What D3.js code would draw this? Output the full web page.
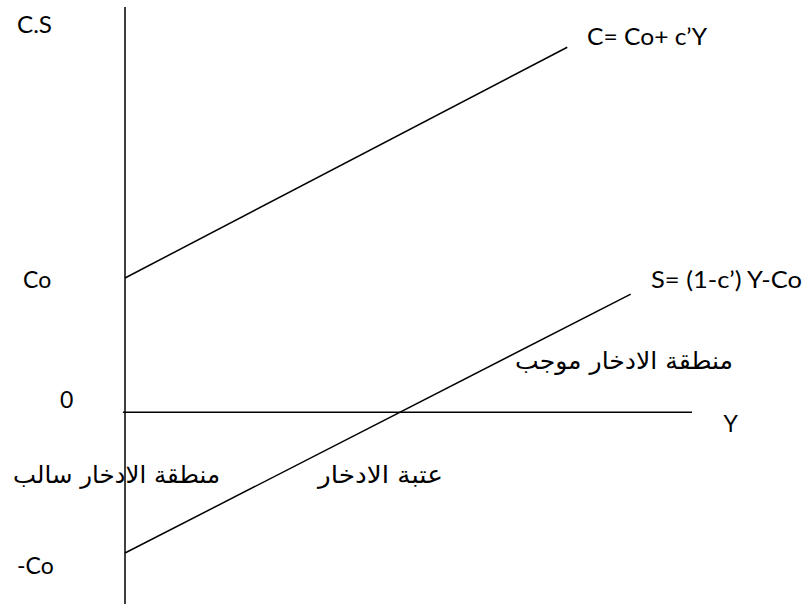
<!DOCTYPE html>
<html><head><meta charset="utf-8">
<script src="https://cdn.jsdelivr.net/npm/d3@7"></script>
<style>
html,body{margin:0;padding:0;background:#fff;}
svg{display:block;}
.lat{font-family:Lato,"Open Sans",sans-serif;font-size:23px;fill:#000;}
.ar{font-family:"DejaVu Sans","Noto Sans",sans-serif;font-size:24px;fill:#000;}
</style>
</head><body>
<svg id="c" width="810" height="605"></svg>
<script>
// Data
const incomeDomain = [0, 10];
const csDomain = [-1.43, 3.02];
const consumptionY = [0, 7.8];
const consumptionC = [1.0, 2.72];
const savingY = [0, 8.92];
const savingS = [-1.05, 0.88];
const tickLabels = [{v: 1, t: "Co"}, {v: 0, t: "0"}, {v: -1.05, t: "-Co"}];

const svg = d3.select("#c");
const x = d3.scaleLinear().domain(incomeDomain).range([125, 692]);
const y = d3.scaleLinear().domain(csDomain).range([604, 7]);

const line = d3.line().x(d => x(d[0])).y(d => y(d[1]));

// axes
svg.append("line").attr("x1", x(0)).attr("x2", x(0)).attr("y1", y(csDomain[1])).attr("y2", y(csDomain[0]))
  .attr("stroke", "#000").attr("stroke-width", 1.5);
svg.append("line").attr("x1", x(0) - 2).attr("x2", x(incomeDomain[1])).attr("y1", y(0)).attr("y2", y(0))
  .attr("stroke", "#000").attr("stroke-width", 1.5);

// lines
svg.append("path").attr("d", line(consumptionY.map((v, i) => [v, consumptionC[i]])))
  .attr("fill", "none").attr("stroke", "#000").attr("stroke-width", 1.5);
svg.append("path").attr("d", line(savingY.map((v, i) => [v, savingS[i]])))
  .attr("fill", "none").attr("stroke", "#000").attr("stroke-width", 1.5);

// tick labels
const tickX = {"Co": 23, "0": 60, "-Co": 17};
const tickDy = {"Co": 10, "0": -4, "-Co": 21};
tickLabels.forEach(d => {
  svg.append("text").attr("class", "lat").attr("x", tickX[d.t]).attr("y", y(d.v) + tickDy[d.t]).text(d.t);
});

// annotations
function lat(xp, yp, t, w) {
  const el = svg.append("text").attr("class", "lat").attr("x", xp).attr("y", yp).text(t);
  if (w) el.attr("textLength", w).attr("lengthAdjust", "spacingAndGlyphs");
}
lat(17, 33, "C.S", 35);
lat(587, 45, "C= Co+ c\u2019Y", 120);
lat(651, 288, "S= (1-c\u2019) Y-Co", 151);
svg.append("text").attr("x", 723).attr("y", 432).style("font-family", "'Liberation Sans',Arial,sans-serif").style("font-size", "23px").text("Y");

function ar(xl, yp, t, w) {
  svg.append("text").attr("class", "ar").attr("x", xl).attr("y", yp)
    .attr("textLength", w).attr("lengthAdjust", "spacingAndGlyphs").text(t);
}
ar(515, 369, "منطقة الادخار موجب", 218);
ar(13, 483, "منطقة الادخار سالب", 207);
ar(318, 483, "عتبة الادخار", 125);
</script>
</body></html>
